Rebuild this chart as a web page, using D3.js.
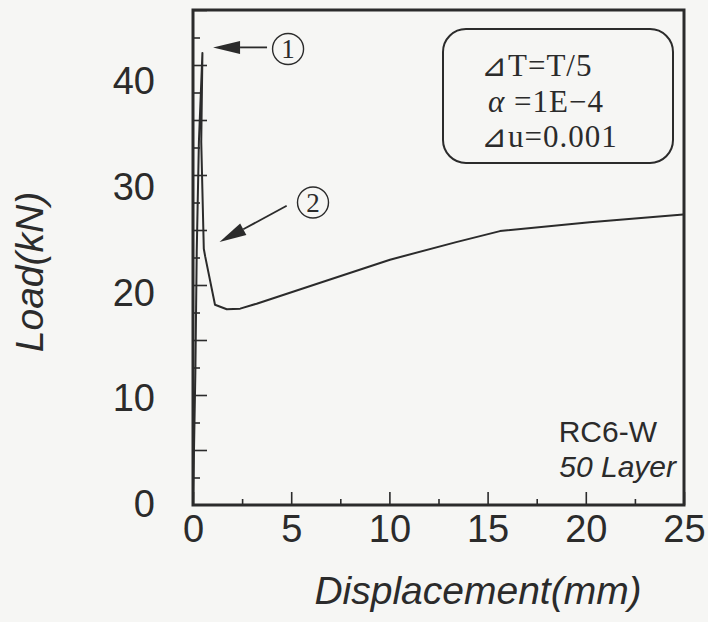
<!DOCTYPE html>
<html lang="en">
<head>
<meta charset="UTF-8">
<script src="https://d3js.org/d3.v7.min.js"></script>
<style>
    body { margin: 0; background: #f6f6f4; }
    svg { display: block; }
    .tick-label { font-family: "Liberation Sans", Arial, sans-serif; font-size: 38px; fill: #2b2b2b; }
    .axis-title { font-family: "Liberation Sans", Arial, sans-serif; font-size: 39px; font-style: italic; fill: #2b2b2b; }
    .note { font-family: "Liberation Serif", "DejaVu Serif", serif; font-size: 31px; fill: #2b2b2b; letter-spacing: 1px; }
    .mark { font-family: "Liberation Serif", "DejaVu Serif", serif; font-size: 27px; fill: #2b2b2b; }
    .tag { font-family: "Liberation Sans", Arial, sans-serif; font-size: 30px; fill: #2b2b2b; }
</style>
</head>
<body>
<script>
// load-displacement curve
var dispValues = [0, 0.12, 0.19, 0.3, 0.48, 0.42, 0.55, 0.62, 1.12, 1.72, 2.4, 3.24, 6.63, 10.03, 13.4, 15.63, 20.2, 24.96];
var loadValues = [0, 12, 23, 33, 41.1, 33, 23.3, 22.6, 18.2, 17.8, 17.85, 18.3, 20.3, 22.3, 23.9, 24.9, 25.7, 26.4];

var xTicks = [0, 5, 10, 15, 20, 25];
var xMinor = [2.5, 7.5, 12.5, 17.5, 22.5];
var yLabels = [0, 10, 20, 30, 40];
var yMajor = [5, 10, 15, 20, 25, 30, 35, 40, 45];
var yMinor = [2.5, 7.5, 12.5, 17.5, 22.5, 27.5, 32.5, 37.5, 42.5];

var noteLines = ["⊿T=T/5", "α =1E−4", "⊿u=0.001"];
var caseLines = ["RC6-W", "50 Layer"];

// arrows: tip, tail and circled number, in data units
var arrows = [
    { label: "1", tip: [1.02, 41.6], tail: [3.77, 41.6], mark: [4.84, 41.45] },
    { label: "2", tip: [1.35, 23.9], tail: [4.77, 27.2], mark: [6.11, 27.5] }
];

var W = 708, H = 622;
var plot = { left: 193, right: 684, top: 10, bottom: 505 };

var svg = d3.select("body").append("svg").attr("width", W).attr("height", H);

var x = d3.scaleLinear().domain([0, 25]).range([plot.left, plot.right]);
var y = d3.scaleLinear().domain([0, 45]).range([plot.bottom, plot.top]);
// the printed y numbers sit a little off the ticks in the original
var yLab = d3.scaleLinear().domain([0, 40]).range([503, 80]);

var ink = "#2b2b2b";

// inward ticks
function tickAxis(axis, pos) {
    var g = svg.append("g").attr("transform", pos).call(axis);
    g.select(".domain").remove();
    g.selectAll(".tick line").attr("stroke", ink).attr("stroke-width", 1.6);
    g.selectAll("text").remove();
}
tickAxis(d3.axisBottom(x).tickValues(xTicks).tickSize(-13), `translate(0,${plot.bottom})`);
tickAxis(d3.axisBottom(x).tickValues(xMinor).tickSize(-6), `translate(0,${plot.bottom})`);
tickAxis(d3.axisLeft(y).tickValues(yMajor).tickSize(-14), `translate(${plot.left},0)`);
tickAxis(d3.axisLeft(y).tickValues(yMinor).tickSize(-7), `translate(${plot.left},0)`);

// tick labels
var xl = svg.append("g").attr("transform", `translate(0,${plot.bottom})`)
    .call(d3.axisBottom(x).tickValues(xTicks).tickSize(0).tickFormat(d3.format("d")));
xl.select(".domain").remove();
xl.selectAll("text").attr("class", "tick-label").attr("y", 37).attr("dy", 0)
    .attr("font-size", null).attr("font-family", null).attr("fill", null);

var yl = svg.append("g").attr("transform", `translate(${plot.left},0)`)
    .call(d3.axisLeft(yLab).tickValues(yLabels).tickSize(0).tickFormat(d3.format("d")));
yl.select(".domain").remove();
yl.selectAll("text").attr("class", "tick-label").attr("x", -38).attr("dy", "0.36em")
    .attr("font-size", null).attr("font-family", null).attr("fill", null);

// frame
svg.append("rect")
    .attr("x", plot.left).attr("y", plot.top)
    .attr("width", plot.right - plot.left).attr("height", plot.bottom - plot.top)
    .attr("fill", "none").attr("stroke", ink).attr("stroke-width", 3);

// curve
var pts = dispValues.map(function (d, i) { return [d, loadValues[i]]; });
svg.append("path")
    .datum(pts)
    .attr("fill", "none")
    .attr("stroke", ink)
    .attr("stroke-width", 2)
    .attr("stroke-linejoin", "round")
    .attr("d", d3.line().x(function (d) { return x(d[0]); }).y(function (d) { return y(d[1]); }));

// arrows with circled numbers
arrows.forEach(function (a) {
    var tx = x(a.tip[0]), ty = y(a.tip[1]);
    var sx = x(a.tail[0]), sy = y(a.tail[1]);
    var ang = Math.atan2(sy - ty, sx - tx);
    var len = 27, half = 6.5;
    var bx = tx + len * Math.cos(ang), by = ty + len * Math.sin(ang);
    var nx = -Math.sin(ang) * half, ny = Math.cos(ang) * half;
    svg.append("line").attr("x1", bx).attr("y1", by).attr("x2", sx).attr("y2", sy)
        .attr("stroke", ink).attr("stroke-width", 1.8);
    svg.append("path")
        .attr("d", `M${tx},${ty}L${bx + nx},${by + ny}L${bx - nx},${by - ny}Z`)
        .attr("fill", ink);
    svg.append("circle").attr("cx", x(a.mark[0])).attr("cy", y(a.mark[1])).attr("r", 15.5)
        .attr("fill", "none").attr("stroke", ink).attr("stroke-width", 1.4);
    svg.append("text").attr("class", "mark").attr("x", x(a.mark[0])).attr("y", y(a.mark[1]))
        .attr("dy", "0.34em").attr("text-anchor", "middle")
        .text(a.label);
});

// parameter box
svg.append("rect")
    .attr("x", 443).attr("y", 29).attr("width", 230).attr("height", 134)
    .attr("rx", 23).attr("ry", 23)
    .attr("fill", "none").attr("stroke", ink).attr("stroke-width", 2);

svg.selectAll(".noteLine")
    .data(noteLines)
    .enter()
    .append("text")
    .attr("class", "note noteLine")
    .attr("x", function (d, i) { return i == 1 ? 488 : 481; })
    .attr("y", function (d, i) { return 76 + i * 35.5; })
    .each(function (d) {
        var t = d3.select(this);
        if (d.charAt(0) == "α") {
            t.append("tspan").style("font-style", "italic").text("α");
            t.append("tspan").text(d.slice(1));
        } else {
            t.text(d);
        }
    });

// specimen tag
svg.append("text").attr("class", "tag").attr("x", 657).attr("y", 442)
    .attr("text-anchor", "end").text(caseLines[0]);
svg.append("text").attr("class", "tag").attr("x", 676).attr("y", 477)
    .attr("text-anchor", "end").style("font-style", "italic").text(caseLines[1]);

// axis titles
svg.append("text").attr("class", "axis-title")
    .attr("x", 478).attr("y", 604).attr("text-anchor", "middle")
    .text("Displacement(mm)");

svg.append("text").attr("class", "axis-title")
    .attr("transform", "translate(43,272) rotate(-90)")
    .attr("text-anchor", "middle")
    .text("Load(kN)");
</script>
</body>
</html>
